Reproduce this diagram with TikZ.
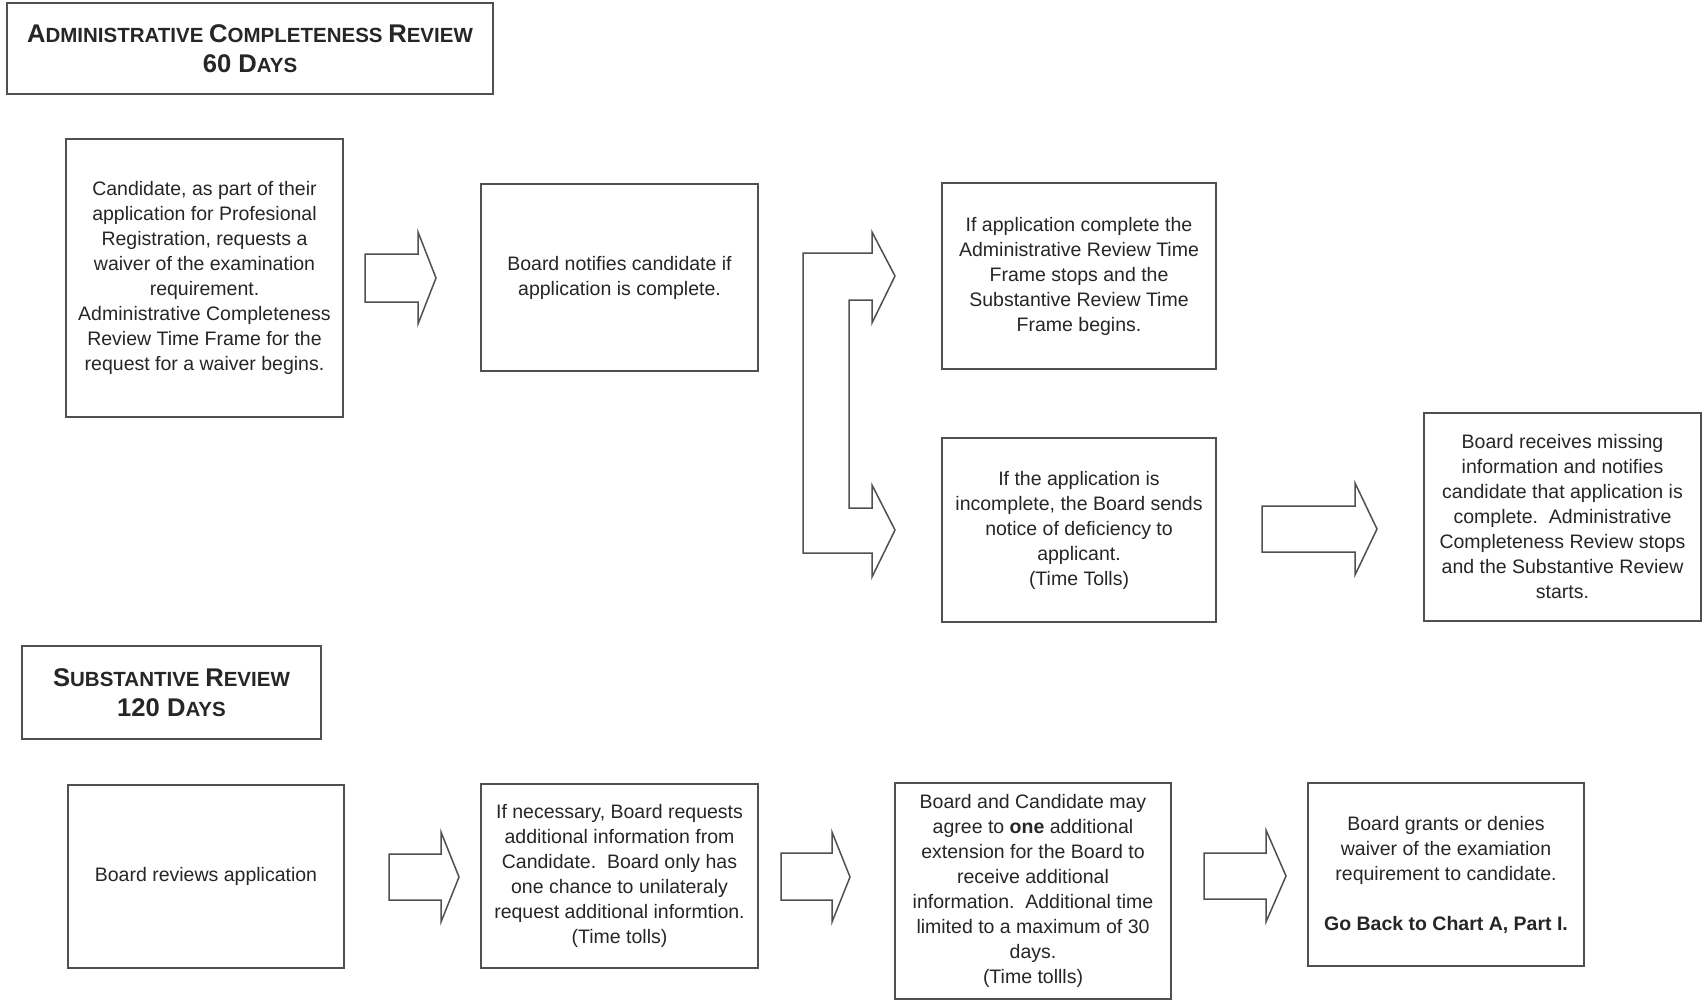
\documentclass[tikz,border=0pt]{standalone}
\usepackage{fontspec}
\setmainfont{Liberation Sans}
\definecolor{lnc}{RGB}{80,80,80}
\definecolor{txc}{RGB}{38,38,38}
\newcommand\Tbig{\fontsize{12.8}{15}\selectfont}
\newcommand\Tsml{\fontsize{10.25}{15}\selectfont}
\begin{document}
\begin{tikzpicture}[x=0.5pt,y=-0.5pt,
  box/.style={draw=lnc, line width=0.9pt, rectangle, inner sep=0pt, align=center,
    text=txc, font=\fontsize{9.75}{12.5}\selectfont},
  titlebox/.style={draw=lnc, line width=0.9pt, rectangle, inner sep=0pt, align=center,
    text=txc, font=\bfseries\fontsize{12.8}{15}\selectfont},
  blockarrow/.style={draw=lnc, line width=0.75pt, line join=miter, fill=white}]
\useasboundingbox (0,0) rectangle (1706,1000);
\fill[white] (0,0) rectangle (1706,1000);

% titles
\node[titlebox, minimum width=243pt, minimum height=45.5pt] (t1) at (250,48.5)
  {\Tbig A\Tsml DMINISTRATIVE \Tbig C\Tsml OMPLETENESS \Tbig R\Tsml EVIEW\\ \Tbig 60 D\Tsml AYS};
\node[titlebox, minimum width=149.5pt, minimum height=46.5pt] (t2) at (171.5,692.5)
  {\Tbig S\Tsml UBSTANTIVE \Tbig R\Tsml EVIEW\\ \Tbig 120 D\Tsml AYS};

% administrative completeness review row
\node[box, minimum width=138.5pt, minimum height=139pt] (a) at (204.5,278)
  {Candidate, as part of their\\ application for Profesional\\ Registration, requests a\\ waiver of the examination\\ requirement.\\ Administrative Completeness\\ Review Time Frame for the\\ request for a waiver begins.};
\node[box, minimum width=138.5pt, minimum height=93.5pt] (b) at (619.5,277.5)
  {Board notifies candidate if\\ application is complete.};
\node[box, minimum width=137pt, minimum height=93pt] (c) at (1079,276)
  {If application complete the\\ Administrative Review Time\\ Frame stops and the\\ Substantive Review Time\\ Frame begins.};
\node[box, minimum width=137pt, minimum height=92pt] (d) at (1079,530)
  {If the application is\\ incomplete, the Board sends\\ notice of deficiency to\\ applicant.\\ (Time Tolls)};
\node[box, minimum width=138.5pt, minimum height=104pt] (e) at (1562.5,517)
  {Board receives missing\\ information and notifies\\ candidate that application is\\ complete.\ \ Administrative\\ Completeness Review stops\\ and the Substantive Review\\ starts.};

% substantive review row
\node[box, minimum width=138pt, minimum height=91.5pt] (f) at (206,876.5)
  {Board reviews application};
\node[box, minimum width=138.5pt, minimum height=92pt] (g) at (619.5,876)
  {If necessary, Board requests\\ additional information from\\ Candidate.\ \ Board only has\\ one chance to unilateraly\\ request additional informtion.\\ (Time tolls)};
\node[box, minimum width=138pt, minimum height=108pt] (h) at (1033,891)
  {Board and Candidate may\\ agree to \textbf{one} additional\\ extension for the Board to\\ receive additional\\ information.\ \ Additional time\\ limited to a maximum of 30\\ days.\\ (Time tollls)};
\node[box, minimum width=138pt, minimum height=91.5pt] (i) at (1446,874.5)
  {Board grants or denies\\ waiver of the examiation\\ requirement to candidate.\\[12.5pt] \textbf{Go Back to Chart A, Part I.}};

% block arrows
\draw[blockarrow] (365,254) -- (418,254) -- (418,232) -- (436,278) -- (418,324) -- (418,302) -- (365,302) -- cycle;
\draw[blockarrow] (803,253) -- (872,253) -- (872,232) -- (895,276) -- (872,323) -- (872,300) -- (849,300)
  -- (849,508) -- (872,508) -- (872,485) -- (895,530) -- (872,577) -- (872,553) -- (803,553) -- cycle;
\draw[blockarrow] (1262,506) -- (1355,506) -- (1355,483) -- (1377,529) -- (1355,575) -- (1355,552) -- (1262,552) -- cycle;
\draw[blockarrow] (389,854) -- (441,854) -- (441,832) -- (459,877) -- (441,922) -- (441,900) -- (389,900) -- cycle;
\draw[blockarrow] (781,853) -- (832,853) -- (832,832) -- (850,877) -- (832,922) -- (832,900) -- (781,900) -- cycle;
\draw[blockarrow] (1204,853) -- (1266,853) -- (1266,830) -- (1286,876) -- (1266,922) -- (1266,899) -- (1204,899) -- cycle;
\end{tikzpicture}
\end{document}
